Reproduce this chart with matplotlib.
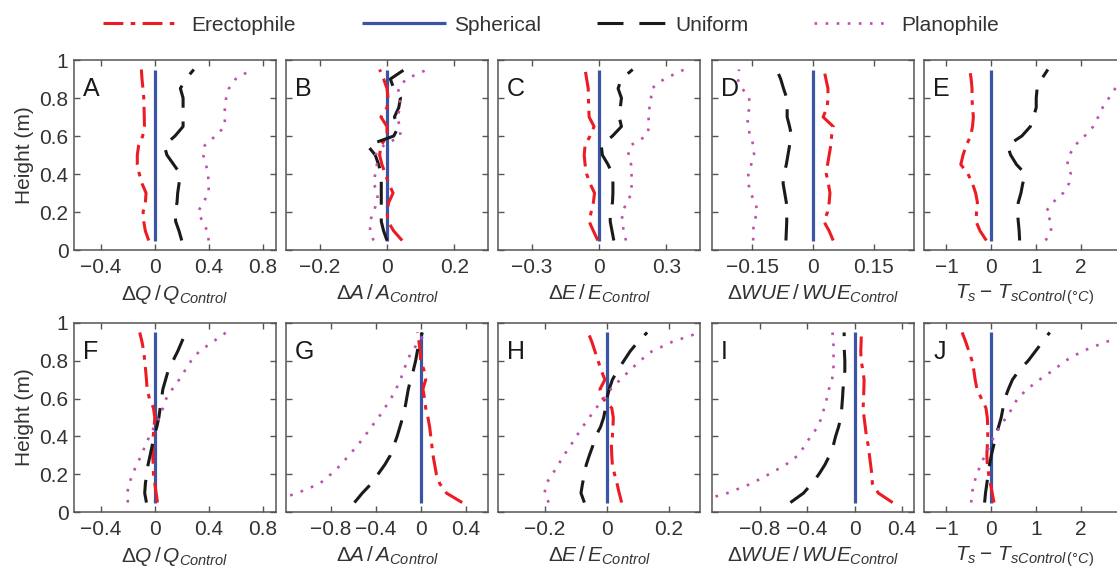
import numpy as np
import matplotlib
matplotlib.use("Agg")
import matplotlib.pyplot as plt
from matplotlib.ticker import FuncFormatter

plt.rcParams['font.family'] = ['Liberation Sans', 'DejaVu Sans']
plt.rcParams['mathtext.fontset'] = 'custom'
plt.rcParams['mathtext.rm'] = 'Liberation Sans'
plt.rcParams['mathtext.it'] = 'Liberation Sans:italic'
plt.rcParams['mathtext.bf'] = 'Liberation Sans:bold'

# canopy heights (m) where the profiles are sampled
height = [0.05, 0.10, 0.15, 0.20, 0.25, 0.30, 0.35, 0.40, 0.45, 0.50,
          0.55, 0.60, 0.65, 0.70, 0.75, 0.80, 0.85, 0.90, 0.95]
spherical = [0.0] * 19

# top row: dQ/Q, dA/A, dE/E, dWUE/WUE, Ts - TsControl
ereA = [-0.045, -0.07, -0.082, -0.087, -0.07, -0.065, -0.095, -0.115, -0.13, -0.13,
        -0.12, -0.09, -0.077, -0.078, -0.08, -0.082, -0.088, -0.095, -0.10]
uniA = [0.20, 0.18, 0.155, 0.15, 0.165, 0.17, 0.18, 0.19, 0.14, 0.09,
        0.07, 0.15, 0.21, 0.21, 0.21, 0.21, 0.19, 0.23, 0.29]
plaA = [0.40, 0.39, 0.355, 0.32, 0.36, 0.40, 0.40, 0.395, 0.38, 0.36,
        0.37, 0.45, 0.52, 0.52, 0.52, 0.53, 0.55, 0.60, 0.72]

ereB = [0.045, 0.02, 0.003, 0.0, 0.005, 0.018, 0.005, -0.005, -0.015, -0.022,
        -0.018, 0.0, 0.0, -0.018, 0.0, 0.003, 0.0, -0.01, -0.022]
uniB = [0.0, -0.01, -0.017, -0.017, -0.017, -0.017, -0.017, -0.017, -0.025, -0.035,
        -0.058, 0.02, 0.035, 0.022, 0.035, 0.04, 0.02, 0.01, 0.052]
plaB = [-0.04, -0.05, -0.051, -0.04, -0.03, -0.027, -0.04, -0.035, -0.03, -0.035,
        -0.01, 0.04, 0.038, 0.03, 0.04, 0.038, 0.033, 0.057, 0.12]

ereC = [-0.005, -0.025, -0.044, -0.035, -0.025, -0.02, -0.04, -0.055, -0.062, -0.066,
        -0.062, -0.04, -0.022, -0.044, -0.046, -0.047, -0.048, -0.055, -0.062]
uniC = [0.066, 0.058, 0.05, 0.05, 0.06, 0.062, 0.062, 0.06, 0.04, 0.015,
        0.01, 0.06, 0.10, 0.09, 0.095, 0.10, 0.085, 0.10, 0.15]
plaC = [0.12, 0.11, 0.103, 0.103, 0.125, 0.145, 0.145, 0.145, 0.143, 0.13,
        0.14, 0.21, 0.225, 0.22, 0.225, 0.232, 0.235, 0.29, 0.38]

ereD = [0.05, 0.04, 0.027, 0.036, 0.04, 0.042, 0.038, 0.033, 0.036, 0.04,
        0.044, 0.046, 0.05, 0.025, 0.035, 0.037, 0.037, 0.032, 0.027]
uniD = [-0.067, -0.066, -0.065, -0.065, -0.066, -0.07, -0.074, -0.072, -0.066, -0.062,
        -0.058, -0.053, -0.058, -0.064, -0.064, -0.065, -0.073, -0.08, -0.09]
plaD = [-0.148, -0.148, -0.146, -0.137, -0.143, -0.155, -0.16, -0.16, -0.153, -0.146,
        -0.147, -0.156, -0.16, -0.163, -0.157, -0.158, -0.175, -0.187, -0.183]

ereE = [-0.11, -0.25, -0.34, -0.33, -0.31, -0.35, -0.42, -0.52, -0.68, -0.63,
        -0.56, -0.46, -0.42, -0.40, -0.42, -0.43, -0.43, -0.45, -0.48]
uniE = [0.63, 0.62, 0.60, 0.58, 0.60, 0.66, 0.70, 0.76, 0.56, 0.43,
        0.36, 0.68, 0.87, 0.94, 1.0, 1.0, 1.02, 1.12, 1.26]
plaE = [1.21, 1.33, 1.33, 1.21, 1.37, 1.60, 1.73, 1.77, 1.69, 1.74,
        1.86, 2.08, 2.27, 2.38, 2.48, 2.62, 2.76, 2.95, 3.20]

# bottom row
ereF = [0.02, 0.01, 0.0, -0.01, -0.012, -0.015, -0.015, -0.012, -0.005, 0.0,
        -0.01, -0.04, -0.057, -0.062, -0.068, -0.075, -0.082, -0.095, -0.112]
uniF = [-0.062, -0.075, -0.07, -0.06, -0.05, -0.035, -0.02, -0.007, 0.015, 0.03,
        0.04, 0.05, 0.06, 0.08, 0.10, 0.135, 0.17, 0.20, 0.23]
plaF = [-0.20, -0.205, -0.19, -0.165, -0.135, -0.10, -0.072, -0.04, -0.005, 0.035,
        0.06, 0.085, 0.13, 0.18, 0.225, 0.27, 0.33, 0.43, 0.53]

ereG = [0.37, 0.23, 0.17, 0.14, 0.125, 0.11, 0.10, 0.09, 0.08, 0.065,
        0.045, 0.035, 0.02, 0.045, 0.03, 0.0, -0.005, -0.015, -0.03]
uniG = [-0.59, -0.52, -0.44, -0.38, -0.32, -0.27, -0.24, -0.21, -0.185, -0.16,
        -0.14, -0.125, -0.11, -0.09, -0.065, -0.045, -0.03, -0.012, 0.015]
plaG = [-1.35, -1.10, -0.90, -0.80, -0.71, -0.64, -0.565, -0.50, -0.44, -0.375,
        -0.32, -0.265, -0.22, -0.18, -0.15, -0.12, -0.08, -0.015, 0.045]

ereH = [0.048, 0.04, 0.033, 0.025, 0.018, 0.016, 0.015, 0.018, 0.02, 0.021,
        0.016, -0.012, -0.022, -0.006, -0.018, -0.028, -0.038, -0.048, -0.06]
uniH = [-0.072, -0.083, -0.078, -0.072, -0.066, -0.056, -0.045, -0.036, -0.02, -0.01,
        -0.004, 0.0, 0.008, 0.018, 0.035, 0.055, 0.075, 0.10, 0.13]
plaH = [-0.187, -0.20, -0.195, -0.175, -0.156, -0.138, -0.117, -0.098, -0.078, -0.056,
        -0.034, -0.01, 0.013, 0.043, 0.075, 0.107, 0.145, 0.21, 0.30]

ereI = [0.32, 0.20, 0.15, 0.145, 0.135, 0.125, 0.115, 0.10, 0.09, 0.08,
        0.072, 0.075, 0.078, 0.08, 0.07, 0.055, 0.052, 0.055, 0.057]
uniI = [-0.54, -0.43, -0.36, -0.30, -0.25, -0.21, -0.18, -0.16, -0.135, -0.115,
        -0.108, -0.102, -0.097, -0.09, -0.082, -0.082, -0.086, -0.087, -0.088]
plaI = [-1.35, -1.07, -0.87, -0.72, -0.58, -0.475, -0.42, -0.37, -0.31, -0.278,
        -0.256, -0.234, -0.216, -0.19, -0.178, -0.177, -0.177, -0.178, -0.186]

ereJ = [0.06, 0.02, -0.02, -0.06, -0.09, -0.10, -0.09, -0.08, -0.08, -0.09,
        -0.12, -0.22, -0.32, -0.36, -0.39, -0.43, -0.50, -0.57, -0.65]
uniJ = [-0.15, -0.13, -0.10, -0.07, -0.04, 0.0, 0.05, 0.09, 0.16, 0.22,
        0.26, 0.30, 0.38, 0.47, 0.62, 0.82, 0.98, 1.14, 1.30]
plaJ = [-0.45, -0.43, -0.39, -0.32, -0.24, -0.14, -0.04, 0.06, 0.19, 0.33,
        0.47, 0.58, 0.80, 1.07, 1.38, 1.65, 2.02, 2.55, 3.30]

xlab_Q = r'$\Delta Q\,/\,Q_{Control}$'
xlab_A = r'$\Delta A\,/\,A_{Control}$'
xlab_E = r'$\Delta E\,/\,E_{Control}$'
xlab_W = r'$\Delta WUE\,/\,WUE_{Control}$'
xlab_T = r'$T_s-\,T_{sControl\,(°C)}$'

panels = [
    ('A', ereA, uniA, plaA, (-0.6, 0.9), [-0.4, 0, 0.4, 0.8], xlab_Q),
    ('B', ereB, uniB, plaB, (-0.3, 0.3), [-0.2, 0, 0.2], xlab_A),
    ('C', ereC, uniC, plaC, (-0.45, 0.45), [-0.3, 0, 0.3], xlab_E),
    ('D', ereD, uniD, plaD, (-0.25, 0.25), [-0.15, 0, 0.15], xlab_W),
    ('E', ereE, uniE, plaE, (-1.5, 3.0), [-1, 0, 1, 2], xlab_T),
    ('F', ereF, uniF, plaF, (-0.6, 0.9), [-0.4, 0, 0.4, 0.8], xlab_Q),
    ('G', ereG, uniG, plaG, (-1.2, 0.6), [-0.8, -0.4, 0, 0.4], xlab_A),
    ('H', ereH, uniH, plaH, (-0.35, 0.3), [-0.2, 0, 0.2], xlab_E),
    ('I', ereI, uniI, plaI, (-1.2, 0.5), [-0.8, -0.4, 0, 0.4], xlab_W),
    ('J', ereJ, uniJ, plaJ, (-1.5, 3.0), [-1, 0, 1, 2], xlab_T),
]

c_ere = '#ec1c24'
c_sph = '#3a55a6'
c_uni = '#1a1a1a'
c_pla = '#bf4fae'
txt = '#333333'
W, H = 1117.0, 572.0

sty_sph = dict(color=c_sph, lw=2.3, solid_capstyle='butt')
sty_ere = dict(color=c_ere, lw=2.2, dashes=(6.5, 2.4, 1.5, 2.4))
sty_uni = dict(color=c_uni, lw=2.2, dashes=(7.5, 4.5))
sty_pla = dict(color=c_pla, lw=1.9, dashes=(1.0, 3.2))

def fmt(v, pos):
    return ('%g' % v).replace('-', '\u2212')

fig = plt.figure(figsize=(11.17, 5.72), dpi=100)

lefts = [74, 286, 498, 712, 924]
rows = [(60, 250), (323, 512)]

for i, (letter, ere, uni, pla, xlim, xt, xlab) in enumerate(panels):
    r, c = divmod(i, 5)
    top, bot = rows[r]
    ax = fig.add_axes([lefts[c] / W, (H - bot) / H, 202 / W, (bot - top) / H])

    ax.plot(spherical, height, **sty_sph)
    ax.plot(ere, height, **sty_ere)
    ax.plot(uni, height, **sty_uni)
    ax.plot(pla, height, **sty_pla)

    ax.set_xlim(xlim)
    ax.set_ylim(0, 1)
    ax.set_xticks(xt)
    ax.set_yticks([0, 0.2, 0.4, 0.6, 0.8, 1.0])
    ax.xaxis.set_major_formatter(FuncFormatter(fmt))
    ax.yaxis.set_major_formatter(FuncFormatter(fmt))
    ax.tick_params(direction='in', top=True, right=True, length=4.5, width=1,
                   color='#555555', labelsize=15, labelcolor=txt, pad=6)
    ax.tick_params(axis='y', pad=4)
    for s in ax.spines.values():
        s.set_color('#555555')
        s.set_linewidth(1.1)
    if c > 0:
        ax.set_yticklabels([])
    else:
        ax.set_ylabel('Height (m)', fontsize=15, color=txt, labelpad=4)
    ax.set_xlabel(xlab, fontsize=15, color=txt, labelpad=4)
    ax.text(0.045, 0.845, letter, transform=ax.transAxes, fontsize=18,
            color='#1a1a1a', ha='left', va='center')

# legend row along the top, laid out in pixel units
lax = fig.add_axes([0, 0, 1, 1])
lax.set_xlim(0, W)
lax.set_ylim(H, 0)
lax.axis('off')
leg_y = 23
lax.plot([103, 180], [leg_y, leg_y], **sty_ere)
lax.plot([362, 446], [leg_y, leg_y], **sty_sph)
lax.plot([597, 666], [leg_y, leg_y], color=c_uni, lw=2.2, dashes=(8.5, 5.2))
lax.plot([814, 890], [leg_y, leg_y], **sty_pla)
for x0, name in [(191, 'Erectophile'), (454, 'Spherical'),
                 (675, 'Uniform'), (901, 'Planophile')]:
    lax.text(x0, 31, name, fontsize=15, color=txt, ha='left', va='baseline')

fig.savefig('out.png', dpi=100)
